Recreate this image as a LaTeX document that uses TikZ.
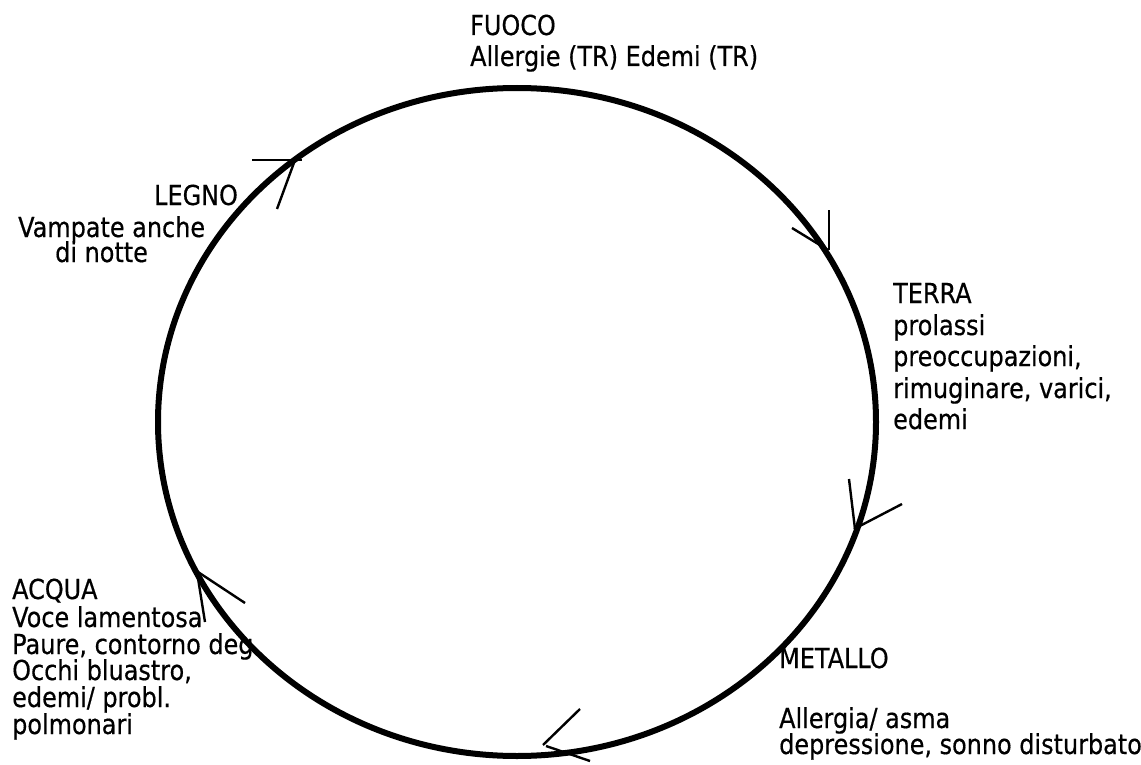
\documentclass[tikz,border=0pt]{standalone}
\usepackage{fontspec}
\setmainfont{DejaVu Sans}[FakeStretch=0.87,FakeBold=0.5]
\begin{document}
\begin{tikzpicture}[x=1pt,y=-1pt,
  txt/.style={anchor=base west,inner sep=0pt,font=\fontsize{27.5}{27}\selectfont},
  ring/.style={line width=6pt},
  tick/.style={line width=2.4pt}]
\useasboundingbox (0,0) rectangle (1141,765);
% texts
\node[txt] (fuoco1) at (470,35) {FUOCO};
\node[txt] (fuoco2) at (470,66) {Allergie (TR) Edemi (TR)};
\node[txt] (legno1) at (154,205) {LEGNO};
\node[txt] (legno2) at (18,237) {Vampate anche};
\node[txt] (legno3) at (55,262) {di notte};
\node[txt] (terra1) at (893,303) {TERRA};
\node[txt] (terra2) at (893,335) {prolassi};
\node[txt] (terra3) at (893,366) {preoccupazioni,};
\node[txt] (terra4) at (893,398) {rimuginare, varici,};
\node[txt] (terra5) at (893,429) {edemi};
\node[txt] (acqua1) at (12,599) {ACQUA};
\node[txt] (acqua2) at (12,627) {Voce lamentosa};
\begin{scope}
\clip (0,630) rectangle (252,665);
\node[txt] (acqua3) at (12,654) {Paure, contorno degli};
\end{scope}
\node[txt] (acqua4) at (12,680) {Occhi bluastro,};
\node[txt] (acqua5) at (12,707) {edemi/ probl.};
\node[txt] (acqua6) at (12,734) {polmonari};
\node[txt] (metallo1) at (779,668) {METALLO};
\node[txt] (metallo2) at (779,728) {Allergia/ asma};
\node[txt] (metallo3) at (779,754) {depressione, sonno disturbato};
% cycle
\draw[ring] (517,422) ellipse [x radius=359, y radius=334];
% arrowheads
\coordinate (a1) at (295,160);
\draw[tick] (252,160) -- (302,160);
\draw[tick] (277,209) -- (a1);
\coordinate (a2) at (828,250);
\draw[tick] (829,210) -- (829,250);
\draw[tick] (792,228) -- (a2);
\coordinate (a3) at (854,529);
\draw[tick] (849,479) -- (855,529);
\draw[tick] (902,504) -- (a3);
\coordinate (a4) at (543,745);
\draw[tick] (580,709) -- (a4);
\draw[tick] (546,746) -- (590,761);
\coordinate (a5) at (198,572);
\draw[tick] (a5) -- (245,603);
\draw[tick] (197,572) -- (205,622);
\end{tikzpicture}
\end{document}
